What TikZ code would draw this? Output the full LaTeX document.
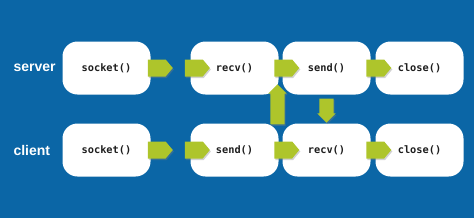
\documentclass[tikz,border=0pt]{standalone}
\usepackage{fontspec}
\setmainfont{Liberation Sans}
\setmonofont{DejaVu Sans Mono}
\usetikzlibrary{shapes.arrows,shadows}
\definecolor{panel}{HTML}{0B66A6}
\definecolor{lime}{HTML}{AEC52B}
\definecolor{ink}{HTML}{1E1E1E}
\begin{document}
\begin{tikzpicture}[x=1pt,y=1pt,
  call/.style={fill=white,rounded corners=15pt,minimum width=88pt,minimum height=53pt,
    inner sep=0pt,font=\ttfamily\bfseries\fontsize{10.3}{12}\selectfont,text=ink},
  role/.style={anchor=west,text=white,font=\bfseries\fontsize{14}{16}\selectfont},
  hop/.style={single arrow,fill=lime,draw=none,single arrow head extend=0pt,
    single arrow tip angle=100,minimum width=17pt,minimum height=25pt,inner sep=0pt,
    drop shadow={opacity=0.35,shadow xshift=1pt,shadow yshift=-1.5pt}},
  link/.style={hop,inner sep=7pt,single arrow head extend=2pt,single arrow tip angle=90,minimum width=18pt}]
\fill[panel] (0,0) rectangle (474,218);
\useasboundingbox (0,0) rectangle (474,218);
% server row
\node[role] (server) at (10,150) {server};
\node[call] (ssock) at (106.5,150) {socket()};
\node[call] (srecv) at (234.5,150) {recv()};
\node[call] (ssend) at (326.5,150) {send()};
\node[call] (sclose) at (419.5,150) {close()};
% client row
\node[role] (client) at (10,68) {client};
\node[call] (csock) at (106.5,68) {socket()};
\node[call] (csend) at (234.5,68) {send()};
\node[call] (crecv) at (326.5,68) {recv()};
\node[call] (cclose) at (419.5,68) {close()};
% steps along each row
\foreach \a/\b in {ssock/srecv,csock/csend} {
  \node[hop,xshift=6pt] (\a out) at (\a.east) {};
  \node[hop,xshift=3.5pt] (\b in) at (\b.west) {};
}
\foreach \a/\b in {srecv/ssend,ssend/sclose,csend/crecv,crecv/cclose}
  \node[hop,xshift=4.5pt] (\a to\b) at (\a.east) {};
% between the rows
\node[link,rotate=90,minimum height=40pt] (up) at (277.5,110) {};
\node[link,rotate=-90,minimum height=24pt] (down) at (326.5,111) {};
\end{tikzpicture}
\end{document}
